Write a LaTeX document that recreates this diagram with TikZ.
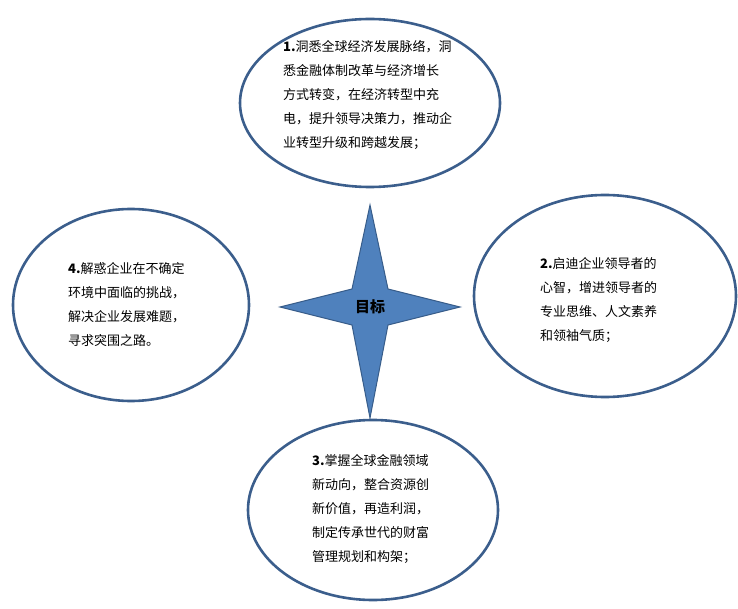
\documentclass[tikz,border=0pt]{standalone}
\usepackage{fontspec}
\newfontfamily\cjk{Noto Sans CJK SC}
\begin{document}
\begin{tikzpicture}[x=1pt,y=-1pt,
  ell/.style={draw=ellc,line width=2.6pt,fill=white},
  txt/.style={font=\cjk\fontsize{13}{24}\selectfont,align=left,inner sep=0pt}]
\definecolor{ellc}{HTML}{3B5E8C}
\definecolor{starf}{HTML}{4F81BD}
\definecolor{stard}{HTML}{385D8A}
\useasboundingbox (0,0) rectangle (738,609);
\draw[ell] (370,103) ellipse[x radius=130,y radius=84];
\draw[ell] (131,305) ellipse[x radius=118,y radius=96];
\draw[ell] (605,296) ellipse[x radius=131,y radius=101];
\draw[ell] (373,510) ellipse[x radius=125,y radius=90];
\draw[fill=starf,draw=stard,line width=1pt] (370,205) -- (388,289) -- (460,307) -- (388,325) -- (370,418) -- (352,325) -- (280,307) -- (352,289) -- cycle;
\node[font=\cjk\bfseries\fontsize{15}{18}\selectfont] (goal) at (370,307) {目标};
\node[txt,anchor=north west] (t1) at (283,40) {\textbf{1.}洞悉全球经济发展脉络，洞\\悉金融体制改革与经济增长\\方式转变，在经济转型中充\\电，提升领导决策力，推动企\\业转型升级和跨越发展；};
\node[txt,anchor=north west] (t4) at (68,262) {\textbf{4.}解惑企业在不确定\\环境中面临的挑战，\\解决企业发展难题，\\寻求突围之路。};
\node[txt,anchor=north west] (t2) at (540,257) {\textbf{2.}启迪企业领导者的\\心智，增进领导者的\\专业思维、人文素养\\和领袖气质；};
\node[txt,anchor=north west] (t3) at (312,454) {\textbf{3.}掌握全球金融领域\\新动向，整合资源创\\新价值，再造利润，\\制定传承世代的财富\\管理规划和构架；};
\end{tikzpicture}
\end{document}
